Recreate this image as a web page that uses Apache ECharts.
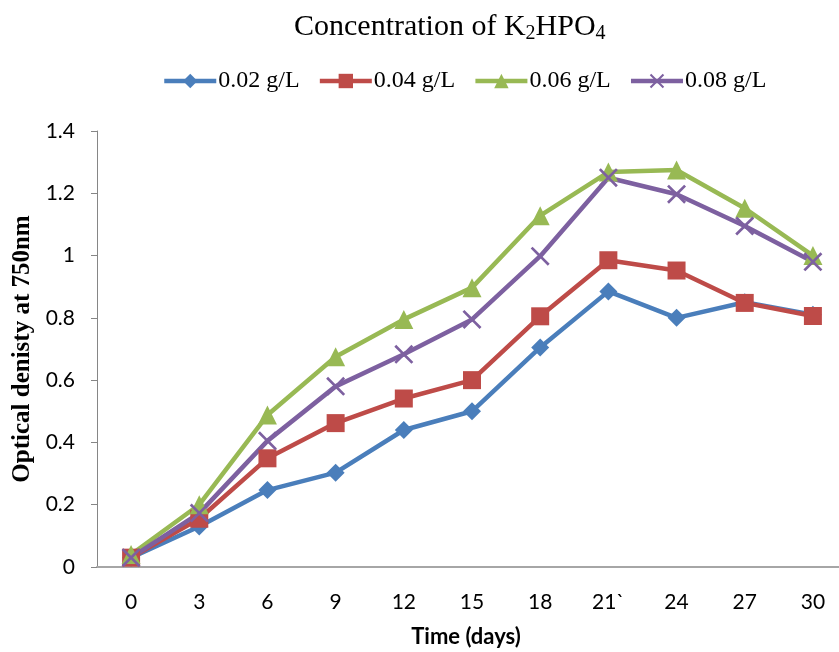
<!DOCTYPE html>
<html>
<head>
<meta charset="utf-8">
<script src="https://cdn.jsdelivr.net/npm/echarts@6/dist/echarts.min.js"></script>
<style>
  html, body { margin: 0; padding: 0; background: #fff; }
  #chart { width: 839px; height: 652px; }
</style>
</head>
<body>
<div id="chart"></div>
<script>
// days (the 21 label carries a stray backtick in the source)
const days = ['0', '3', '6', '9', '12', '15', '18', '21`', '24', '27', '30']
const yTicks = [0, 0.2, 0.4, 0.6, 0.8, 1, 1.2, 1.4]

const conc002 = [0.03, 0.13, 0.247, 0.303, 0.44, 0.50, 0.705, 0.885, 0.80, 0.85, 0.81]
const conc004 = [0.03, 0.155, 0.349, 0.462, 0.541, 0.60, 0.805, 0.985, 0.952, 0.848, 0.806]
const conc006 = [0.04, 0.20, 0.488, 0.675, 0.795, 0.897, 1.128, 1.268, 1.275, 1.152, 1.0]
const conc008 = [0.03, 0.173, 0.405, 0.58, 0.683, 0.795, 0.998, 1.25, 1.197, 1.095, 0.98]

const crossSymbol = 'path://M1,0 L5,4 L9,0 L10,1 L6,5 L10,9 L9,10 L5,6 L1,10 L0,9 L4,5 L0,1 Z'

const serif = '"Liberation Serif", "Times New Roman", serif'
const sans = 'Lato, "Open Sans", sans-serif'

function lineSeries(name, data, color, symbol, size) {
  return {
    name: name,
    type: 'line',
    data: data,
    symbol: symbol,
    symbolSize: size,
    showAllSymbol: true,
    lineStyle: { width: 4.5, color: color },
    itemStyle: { color: color, borderWidth: 0 },
    emphasis: { disabled: true }
  }
}

const chart = echarts.init(document.getElementById('chart'))

const option = {
  animation: false,
  backgroundColor: '#fff',
  title: {
    text: 'Concentration of K{sub|2}HPO{sub|4}',
    left: 289,
    top: 5,
    textStyle: {
      fontFamily: serif,
      fontSize: 30,
      fontWeight: 'normal',
      color: '#000',
      rich: {
        sub: {
          fontFamily: serif,
          fontSize: 20,
          color: '#000',
          verticalAlign: 'bottom',
          padding: [14, 0, 0, 0]
        }
      }
    }
  },
  legend: {
    top: 64,
    left: 157,
    itemWidth: 52,
    itemHeight: 18,
    itemGap: 18,
    lineStyle: { width: 4.5 },
    textStyle: { fontFamily: serif, fontSize: 24, color: '#000', padding: [0, 0, 0, -3] },
    data: ['0.02 g/L', '0.04 g/L', '0.06 g/L', '0.08 g/L']
  },
  grid: {
    left: 97,
    right: -8,
    top: 131,
    bottom: 85,
    outerBoundsMode: 'none',
    containLabel: false
  },
  xAxis: {
    type: 'category',
    data: days,
    boundaryGap: true,
    name: 'Time (days)',
    nameLocation: 'middle',
    nameGap: 59,
    nameTextStyle: { fontFamily: sans, fontSize: 22, fontWeight: 'bold', color: '#000', padding: [0, 12, 0, 0] },
    axisLine: { lineStyle: { color: '#a6a6a6', width: 2 } },
    axisTick: { show: false },
    axisLabel: { fontFamily: sans, fontSize: 21, color: '#000', margin: 25 },
    splitLine: { show: false }
  },
  yAxis: {
    type: 'value',
    min: yTicks[0],
    max: yTicks[yTicks.length - 1],
    interval: 0.2,
    name: 'Optical denisty at 750nm',
    nameLocation: 'middle',
    nameGap: 62,
    nameTextStyle: { fontFamily: serif, fontSize: 25, fontWeight: 'bold', color: '#000' },
    axisLine: { show: true, lineStyle: { color: '#868686', width: 1 } },
    axisTick: { show: true, length: 6, lineStyle: { color: '#868686' } },
    axisLabel: { fontFamily: sans, fontSize: 21, color: '#000', margin: 22 },
    splitLine: { show: false }
  },
  series: [
    lineSeries('0.02 g/L', conc002, '#4a7ebb', 'diamond', 18),
    lineSeries('0.04 g/L', conc004, '#be4b48', 'rect', 18),
    lineSeries('0.06 g/L', conc006, '#98b954', 'triangle', 19),
    lineSeries('0.08 g/L', conc008, '#7d60a0', crossSymbol, 19)
  ]
}

chart.setOption(option)
</script>
</body>
</html>
